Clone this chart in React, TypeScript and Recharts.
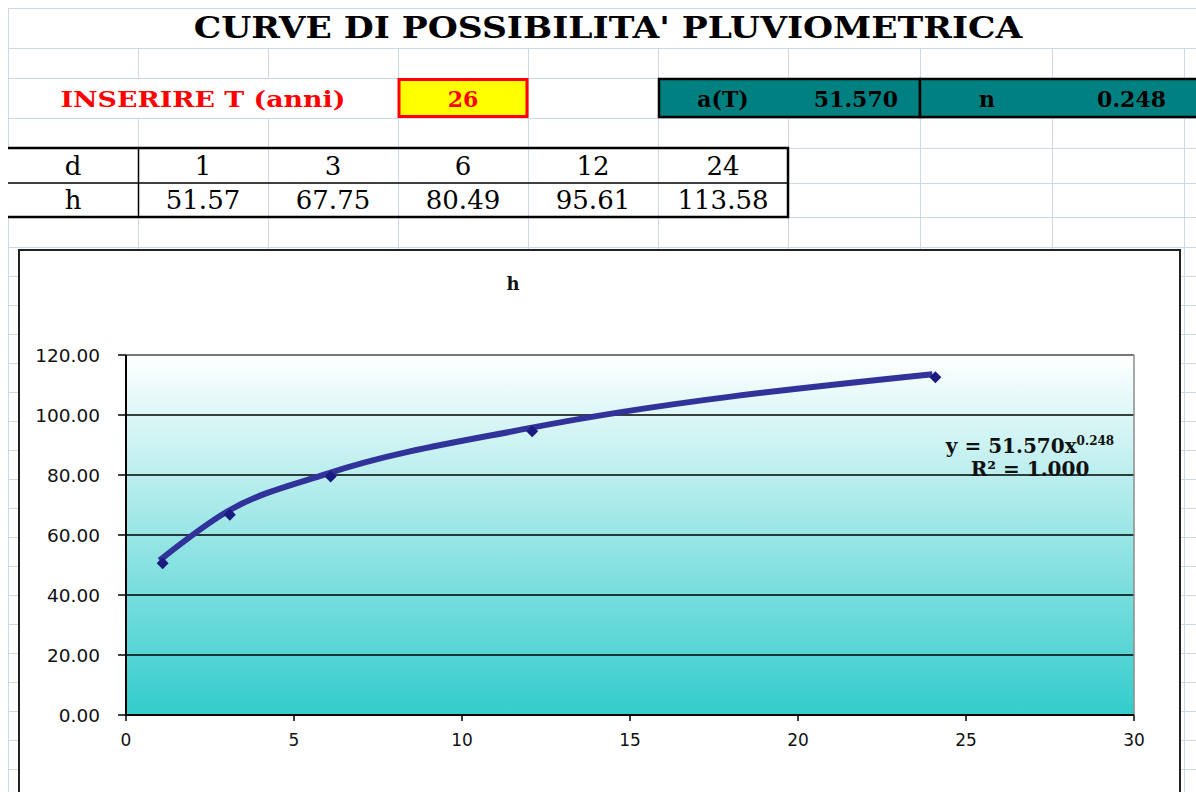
import React from 'react';
import { ComposedChart, Line, Scatter, XAxis, YAxis, CartesianGrid, ReferenceLine } from 'recharts';

// table values (d = duration in hours, h = rainfall height in mm)
const DURATIONS = [1, 3, 6, 12, 24];
const HEIGHTS = [51.57, 67.75, 80.49, 95.61, 113.58];
const RETURN_PERIOD = '26';
const COEFF_A = '51.570';
const EXP_N = '0.248';
const R_SQUARED = '1.000';
const Y_TICKS = [0, 20, 40, 60, 80, 100, 120];
const X_TICKS = [0, 5, 10, 15, 20, 25, 30];

const chartData = DURATIONS.map((d, i) => ({ d, h: HEIGHTS[i] }));

// sheet layout
const COLS = [8, 138, 268, 398, 528, 658, 788, 920, 1052, 1184];
const ROWS = [8, 48, 78, 118, 148, 183, 217, 247];
for (let y = 276; y < 792; y += 29) ROWS.push(y);
const COL_CENTERS = [203, 333, 463, 593, 723];
const GRID = '#d0d7e5';
const SERIF = '"DejaVu Serif", serif';
const SANS = '"DejaVu Sans", sans-serif';

function SheetText({ x, y, children, size = 24, weight = 400, fill = '#000', anchor = 'middle', sx = 1 }: any) {
  return (
    <g transform={`translate(${x},${y}) scale(${sx},1)`}>
      <text x={0} y={0} fontFamily={SERIF} fontSize={size} fontWeight={weight} fill={fill} textAnchor={anchor} dominantBaseline="central">
        {children}
      </text>
    </g>
  );
}

function Diamond(props: any) {
  const { cx, cy } = props;
  if (cx == null || cy == null) return null;
  const x = cx + 3;
  const y = cy + 3;
  return <path d={`M${x},${y - 6} L${x + 6},${y} L${x},${y + 6} L${x - 6},${y} Z`} fill="#1a1a80" />;
}

function Sheet() {
  return (
    <svg width={1196} height={792} style={{ position: 'absolute', left: 0, top: 0 }}>
      {ROWS.map((y) => (
        <line key={`r${y}`} x1={8} x2={1196} y1={y + 0.5} y2={y + 0.5} stroke={GRID} />
      ))}
      <line x1={8.5} x2={8.5} y1={8} y2={792} stroke={GRID} />
      {COLS.slice(1).map((x) =>
        x === 138 || x === 268 ? (
          <g key={`c${x}`}>
            <line x1={x + 0.5} x2={x + 0.5} y1={48} y2={78} stroke={GRID} />
            <line x1={x + 0.5} x2={x + 0.5} y1={118} y2={792} stroke={GRID} />
          </g>
        ) : (
          <line key={`c${x}`} x1={x + 0.5} x2={x + 0.5} y1={48} y2={792} stroke={GRID} />
        )
      )}

      {/* title */}
      <SheetText x={608} y={28} size={29} weight={700} sx={1.19}>CURVE DI POSSIBILITA' PLUVIOMETRICA</SheetText>

      {/* input row */}
      <SheetText x={203} y={99} size={22} weight={700} fill="#ff0000" sx={1.22}>INSERIRE T (anni)</SheetText>
      <rect x={399} y={79.5} width={128} height={37} fill="#ffff00" stroke="#ff0000" strokeWidth={3} />
      <SheetText x={463} y={99} size={22} weight={700} fill="#ff0000">{RETURN_PERIOD}</SheetText>
      <rect x={659} y={79} width={261} height={38} fill="#008080" stroke="#000" strokeWidth={2.5} />
      <rect x={920} y={79} width={290} height={38} fill="#008080" stroke="#000" strokeWidth={2.5} />
      <SheetText x={723} y={99} size={22} weight={700}>a(T)</SheetText>
      <SheetText x={898} y={99} size={22} weight={700} anchor="end">{COEFF_A}</SheetText>
      <SheetText x={987} y={99} size={22} weight={700}>n</SheetText>
      <SheetText x={1166} y={99} size={22} weight={700} anchor="end">{EXP_N}</SheetText>

      {/* d / h table */}
      <rect x={8} y={148} width={780} height={69} fill="#fff" />
      {[268, 398, 528, 658].map((x) => (
        <line key={`t${x}`} x1={x + 0.5} x2={x + 0.5} y1={148} y2={217} stroke={GRID} />
      ))}
      <line x1={8} x2={789} y1={148} y2={148} stroke="#000" strokeWidth={2.5} />
      <line x1={8} x2={789} y1={217} y2={217} stroke="#000" strokeWidth={2.5} />
      <line x1={8} x2={788} y1={183} y2={183} stroke="#000" strokeWidth={1.5} />
      <line x1={138.5} x2={138.5} y1={148} y2={217} stroke="#000" strokeWidth={1.5} />
      <line x1={788} x2={788} y1={147} y2={218} stroke="#000" strokeWidth={2.5} />
      <SheetText x={73} y={166} size={26}>d</SheetText>
      <SheetText x={73} y={200} size={26}>h</SheetText>
      {DURATIONS.map((d, i) => (
        <SheetText key={`d${i}`} x={COL_CENTERS[i]} y={166} size={26}>{String(d)}</SheetText>
      ))}
      {HEIGHTS.map((h, i) => (
        <SheetText key={`h${i}`} x={COL_CENTERS[i]} y={200} size={26}>{h.toFixed(2)}</SheetText>
      ))}
    </svg>
  );
}

export default function App() {
  return (
    <div style={{ position: 'absolute', left: 0, top: 0, width: 1196, height: 792, overflow: 'hidden', background: '#fff' }}>
      <Sheet />
      <div
        style={{
          position: 'absolute',
          left: 18,
          top: 249,
          width: 1163,
          height: 560,
          border: '2px solid #222',
          boxSizing: 'border-box',
          background: '#fff',
        }}
      >
        <ComposedChart width={1159} height={541} data={chartData} margin={{ top: 104, right: 45, bottom: 37, left: 0 }}>
          <defs>
            <linearGradient id="plotFill" x1="0" y1="0" x2="0" y2="1">
              <stop offset="0%" stopColor="#ffffff" />
              <stop offset="100%" stopColor="#33cccc" />
            </linearGradient>
          </defs>
          <CartesianGrid vertical={false} stroke="#000" strokeWidth={1.5} fill="url(#plotFill)" fillOpacity={1} />
          <XAxis
            dataKey="d"
            type="number"
            domain={[0, 30]}
            ticks={X_TICKS}
            interval={0}
            height={40}
            tickSize={6}
            tickMargin={13}
            axisLine={{ stroke: '#000', strokeWidth: 2 }}
            tickLine={{ stroke: '#000', strokeWidth: 1.5 }}
            tick={{ fontFamily: SANS, fontSize: 17, fill: '#111' }}
          />
          <YAxis
            type="number"
            domain={[0, 120]}
            ticks={Y_TICKS}
            interval={0}
            width={106}
            tickSize={8}
            tickMargin={18}
            tickFormatter={(v: number) => v.toFixed(2)}
            axisLine={{ stroke: '#000', strokeWidth: 2 }}
            tickLine={{ stroke: '#000', strokeWidth: 1.5 }}
            tick={{ fontFamily: SANS, fontSize: 18.5, fill: '#111' }}
          />
          <ReferenceLine y={120} stroke="#8c8c8c" strokeWidth={1.5} />
          <ReferenceLine x={30} stroke="#8c8c8c" strokeWidth={1.5} />
          <Scatter dataKey="h" shape={<Diamond />} isAnimationActive={false} />
          <Line type="monotone" dataKey="h" stroke="#31339a" strokeWidth={6} dot={false} isAnimationActive={false} />
        </ComposedChart>
      </div>

      {/* chart title */}
      <div
        style={{
          position: 'absolute',
          left: 513,
          top: 283,
          transform: 'translate(-50%, -50%)',
          fontFamily: SERIF,
          fontWeight: 700,
          fontSize: 18,
          color: '#111',
        }}
      >
        h
      </div>

      {/* trendline equation */}
      <div
        style={{
          position: 'absolute',
          left: 1030,
          top: 435,
          transform: 'translateX(-50%)',
          textAlign: 'center',
          whiteSpace: 'nowrap',
          fontFamily: SERIF,
          fontWeight: 700,
          fontSize: 20,
          lineHeight: '23px',
          color: '#111',
        }}
      >
        y = {COEFF_A}x<sup style={{ fontSize: 12, lineHeight: 0 }}>{EXP_N}</sup>
        <br />
        R² = {R_SQUARED}
      </div>
    </div>
  );
}
